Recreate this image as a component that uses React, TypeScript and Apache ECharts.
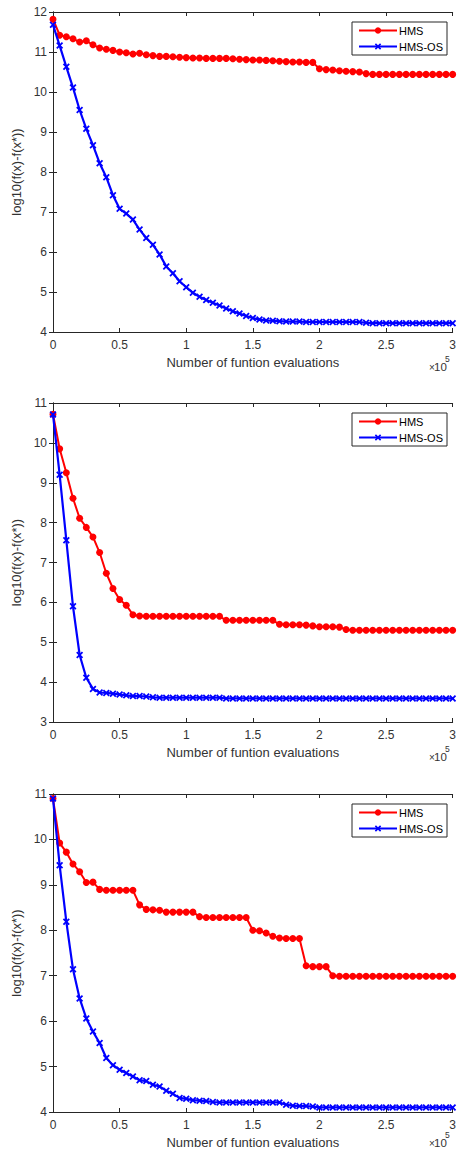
import React, { useEffect, useRef } from "react";
import * as echarts from "echarts";

// ---- data ----
const EVALS = [
  0, 5000, 10000, 15000, 20000, 25000, 30000, 35000, 40000, 45000,
  50000, 55000, 60000, 65000, 70000, 75000, 80000, 85000, 90000, 95000,
  100000, 105000, 110000, 115000, 120000, 125000, 130000, 135000, 140000, 145000,
  150000, 155000, 160000, 165000, 170000, 175000, 180000, 185000, 190000, 195000,
  200000, 205000, 210000, 215000, 220000, 225000, 230000, 235000, 240000, 245000,
  250000, 255000, 260000, 265000, 270000, 275000, 280000, 285000, 290000, 295000,
  300000,
];

const P1_HMS = [
  11.82, 11.42, 11.38, 11.33, 11.25, 11.28, 11.18, 11.1, 11.07, 11.04,
  11.0, 10.98, 10.95, 10.97, 10.93, 10.91, 10.89, 10.89, 10.88, 10.87,
  10.86, 10.85, 10.85, 10.84, 10.84, 10.84, 10.84, 10.83, 10.82, 10.81,
  10.8, 10.8, 10.79, 10.78, 10.77, 10.76, 10.75, 10.75, 10.74, 10.74,
  10.58, 10.56, 10.55, 10.53, 10.52, 10.51, 10.5, 10.46, 10.44, 10.44,
  10.44, 10.44, 10.44, 10.44, 10.44, 10.44, 10.44, 10.44, 10.44, 10.44,
  10.44,
];
const P1_OS = [
  11.68, 11.16, 10.63, 10.11, 9.55, 9.08, 8.67, 8.22, 7.87, 7.42,
  7.08, 6.96, 6.81, 6.56, 6.35, 6.18, 5.94, 5.64, 5.47, 5.27,
  5.12, 4.98, 4.88, 4.8, 4.73, 4.66, 4.59, 4.52, 4.46, 4.4,
  4.35, 4.31, 4.29, 4.28, 4.27, 4.26, 4.26, 4.26, 4.25, 4.25,
  4.25, 4.25, 4.25, 4.25, 4.25, 4.25, 4.25, 4.23, 4.22, 4.22,
  4.22, 4.22, 4.22, 4.22, 4.22, 4.22, 4.22, 4.22, 4.22, 4.22,
  4.22,
];

const P2_HMS = [
  10.72, 9.85, 9.25, 8.61, 8.11, 7.88, 7.64, 7.25, 6.73, 6.35,
  6.07, 5.93, 5.69, 5.66, 5.65, 5.65, 5.65, 5.65, 5.65, 5.65,
  5.65, 5.65, 5.65, 5.65, 5.65, 5.65, 5.55, 5.55, 5.55, 5.55,
  5.55, 5.55, 5.55, 5.55, 5.45, 5.44, 5.44, 5.44, 5.43, 5.41,
  5.39, 5.39, 5.39, 5.38, 5.32, 5.3, 5.3, 5.3, 5.3, 5.3,
  5.3, 5.3, 5.3, 5.3, 5.3, 5.3, 5.3, 5.3, 5.3, 5.3,
  5.3,
];
const P2_OS = [
  10.71, 9.2, 7.56, 5.9, 4.68, 4.11, 3.83, 3.74, 3.73, 3.71,
  3.69, 3.67, 3.65, 3.65, 3.64, 3.62, 3.61, 3.61, 3.61, 3.61,
  3.61, 3.61, 3.61, 3.61, 3.61, 3.61, 3.59, 3.59, 3.59, 3.59,
  3.59, 3.59, 3.59, 3.59, 3.59, 3.59, 3.59, 3.59, 3.59, 3.59,
  3.59, 3.59, 3.59, 3.59, 3.59, 3.59, 3.59, 3.59, 3.59, 3.59,
  3.59, 3.59, 3.59, 3.59, 3.59, 3.59, 3.59, 3.59, 3.59, 3.59,
  3.59,
];

const P3_HMS = [
  10.9, 9.92, 9.72, 9.46, 9.29, 9.05, 9.06, 8.9, 8.88, 8.88,
  8.88, 8.88, 8.88, 8.56, 8.46, 8.45, 8.44, 8.4, 8.4, 8.4,
  8.4, 8.4, 8.3, 8.28, 8.28, 8.28, 8.28, 8.28, 8.28, 8.28,
  8.0, 7.99, 7.94, 7.87, 7.83, 7.82, 7.82, 7.82, 7.22, 7.2,
  7.2, 7.2, 7.0, 6.99, 6.99, 6.99, 6.99, 6.99, 6.99, 6.99,
  6.99, 6.99, 6.99, 6.99, 6.99, 6.99, 6.99, 6.99, 6.99, 6.99,
  6.99,
];
const P3_OS = [
  10.9, 9.43, 8.19, 7.14, 6.5, 6.06, 5.77, 5.52, 5.19, 5.03,
  4.93, 4.86, 4.78, 4.7, 4.68, 4.6, 4.56, 4.47, 4.4, 4.31,
  4.29, 4.26, 4.25, 4.24, 4.22, 4.21, 4.21, 4.21, 4.21, 4.21,
  4.21, 4.21, 4.21, 4.21, 4.21, 4.16, 4.14, 4.13, 4.13, 4.12,
  4.1, 4.1, 4.1, 4.1, 4.1, 4.1, 4.1, 4.1, 4.1, 4.1,
  4.1, 4.1, 4.1, 4.1, 4.1, 4.1, 4.1, 4.1, 4.1, 4.1,
  4.1,
];

const SERIES_NAMES = ["HMS", "HMS-OS"];
const X_TICK_LABELS = ["0", "0.5", "1", "1.5", "2", "2.5", "3"];
const X_TITLE = "Number of funtion evaluations";
const Y_TITLE = "log10(f(x)-f(x*))";
const Y_MIN = [4, 3, 4];
const Y_MAX = [12, 11, 11];
const PANEL_DATA = [
  [P1_HMS, P1_OS],
  [P2_HMS, P2_OS],
  [P3_HMS, P3_OS],
];

// ---- layout / style ----
const FONT = "'Liberation Sans', Arial, Helvetica, sans-serif";
const AXIS_COLOR = "#262626";
const TEXT_COLOR = "#333333";
const GRID_LEFT = 53;
const GRID_WIDTH = 404;
const PANELS = [
  { top: 12, height: 320, expOffset: 35 },
  { top: 403, height: 319, expOffset: 35 },
  { top: 794, height: 318, expOffset: 31 },
];
const X_MARK =
  "path://M0,1.8L1.8,0L5,3.2L8.2,0L10,1.8L6.8,5L10,8.2L8.2,10L5,6.8L1.8,10L0,8.2L3.2,5Z";

function buildOption() {
  const grid: any[] = [];
  const xAxis: any[] = [];
  const yAxis: any[] = [];
  const series: any[] = [];
  const legend: any[] = [];
  const graphic: any[] = [];

  PANELS.forEach((p, i) => {
    grid.push({ left: GRID_LEFT, top: p.top, width: GRID_WIDTH, height: p.height, containLabel: false });

    const tickCommon = {
      show: true,
      inside: true,
      length: 4,
      lineStyle: { color: AXIS_COLOR, width: 1 },
    };
    const lineCommon = { show: true, lineStyle: { color: AXIS_COLOR, width: 1 } };

    xAxis.push({
      type: "value",
      gridIndex: i,
      min: 0,
      max: 300000,
      interval: 50000,
      axisLine: lineCommon,
      axisTick: tickCommon,
      splitLine: { show: false },
      axisLabel: {
        color: TEXT_COLOR,
        fontSize: 12,
        fontFamily: FONT,
        margin: 7,
        formatter: (v: number) => X_TICK_LABELS[Math.round(v / 50000)] ?? "",
      },
      name: X_TITLE,
      nameLocation: "middle",
      nameGap: 24,
      nameTextStyle: { color: TEXT_COLOR, fontSize: 13, fontFamily: FONT },
    });
    xAxis.push({
      type: "value",
      gridIndex: i,
      position: "top",
      min: 0,
      max: 300000,
      interval: 50000,
      axisLine: lineCommon,
      axisTick: tickCommon,
      splitLine: { show: false },
      axisLabel: { show: false },
    });
    yAxis.push({
      type: "value",
      gridIndex: i,
      min: Y_MIN[i],
      max: Y_MAX[i],
      interval: 1,
      axisLine: lineCommon,
      axisTick: tickCommon,
      splitLine: { show: false },
      axisLabel: { color: TEXT_COLOR, fontSize: 12, fontFamily: FONT, margin: 6 },
      name: Y_TITLE,
      nameLocation: "middle",
      nameGap: 16,
      nameTextStyle: { color: TEXT_COLOR, fontSize: 13, fontFamily: FONT },
    });
    yAxis.push({
      type: "value",
      gridIndex: i,
      position: "right",
      min: Y_MIN[i],
      max: Y_MAX[i],
      interval: 1,
      axisLine: lineCommon,
      axisTick: tickCommon,
      splitLine: { show: false },
      axisLabel: { show: false },
    });

    const [hms, os] = PANEL_DATA[i];
    series.push({
      type: "line",
      name: SERIES_NAMES[0],
      xAxisIndex: i * 2,
      yAxisIndex: i * 2,
      data: EVALS.map((x, k) => [x, hms[k]]),
      symbol: "circle",
      symbolSize: 7,
      showAllSymbol: true,
      lineStyle: { color: "#ff0000", width: 2 },
      itemStyle: { color: "#ff0000" },
      silent: true,
      z: 2,
    });
    series.push({
      type: "line",
      name: SERIES_NAMES[1],
      xAxisIndex: i * 2,
      yAxisIndex: i * 2,
      data: EVALS.map((x, k) => [x, os[k]]),
      symbol: X_MARK,
      symbolSize: 7,
      showAllSymbol: true,
      lineStyle: { color: "#0000ff", width: 2.2 },
      itemStyle: { color: "#0000ff" },
      silent: true,
      z: 3,
    });

    legend.push({
      orient: "vertical",
      left: 352,
      top: p.top + 10,
      itemWidth: 38,
      itemHeight: 8,
      itemGap: 5,
      padding: [3, 4, 3, 6],
      borderColor: AXIS_COLOR,
      borderWidth: 1,
      backgroundColor: "#ffffff",
      selectedMode: false,
      textStyle: { color: "#000000", fontSize: 11, fontFamily: FONT, padding: [0, 0, 0, -3] },
      data: SERIES_NAMES,
    });

    const bottom = p.top + p.height;
    const ey = bottom + p.expOffset;
    graphic.push(
      {
        type: "text",
        x: 429,
        y: ey,
        style: { text: "×", fontSize: 10, fontFamily: FONT, fill: TEXT_COLOR, textVerticalAlign: "middle", textAlign: "left" },
      },
      {
        type: "text",
        x: 434,
        y: ey,
        style: { text: "10", fontSize: 11.5, fontFamily: FONT, fill: TEXT_COLOR, textVerticalAlign: "middle", textAlign: "left" },
      },
      {
        type: "text",
        x: 445,
        y: ey - 8.5,
        style: { text: "5", fontSize: 8.5, fontFamily: FONT, fill: TEXT_COLOR, textVerticalAlign: "middle", textAlign: "left" },
      }
    );
  });

  return {
    animation: false,
    backgroundColor: "#ffffff",
    textStyle: { fontFamily: FONT },
    grid,
    xAxis,
    yAxis,
    series,
    legend,
    graphic,
  };
}

export default function App() {
  const ref = useRef<HTMLDivElement>(null);
  useEffect(() => {
    document.body.style.margin = "0";
    if (!ref.current) return;
    const chart = echarts.init(ref.current, undefined, { renderer: "svg" });
    chart.setOption(buildOption() as any);
    return () => chart.dispose();
  }, []);
  return (
    <div
      ref={ref}
      style={{ position: "absolute", left: 0, top: 0, width: 459, height: 1150, background: "#fff" }}
    />
  );
}
